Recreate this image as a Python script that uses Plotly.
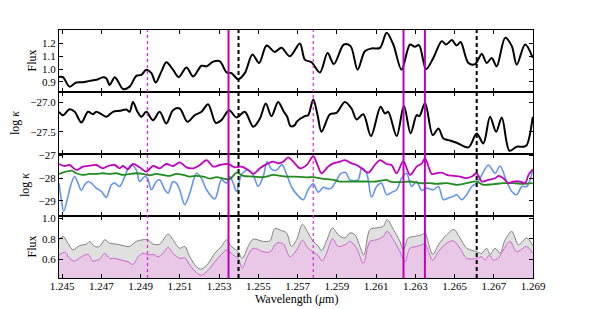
import plotly.graph_objects as go
from plotly.subplots import make_subplots

# ---------------- data ----------------
wl_flux = [1.24484, 1.24504, 1.24538, 1.24572, 1.24606, 1.24640, 1.24674, 1.24708, 1.24725, 1.24742,
           1.24768, 1.24785, 1.24810, 1.24844, 1.24878, 1.24904, 1.24929, 1.24955, 1.24977, 1.25006,
           1.25031, 1.25065, 1.25094, 1.25134, 1.25168, 1.25210, 1.25236, 1.25270, 1.25304, 1.25338,
           1.25363, 1.25397, 1.25431, 1.25470, 1.25504, 1.25542, 1.25584, 1.25618, 1.25661, 1.25712,
           1.25737, 1.25771, 1.25814, 1.25853, 1.25885, 1.25936, 1.25970, 1.26006, 1.26043, 1.26077,
           1.26120, 1.26154, 1.26188, 1.26230, 1.26273, 1.26298, 1.26319, 1.26355, 1.26392, 1.26435,
           1.26457, 1.26486, 1.26511, 1.26531, 1.26571, 1.26605, 1.26639, 1.26664, 1.26690, 1.26715,
           1.26758, 1.26792, 1.26817, 1.26860, 1.26899]
flux = [0.937, 0.937, 0.863, 0.895, 0.897, 0.908, 0.916, 0.937, 0.929, 0.876,
        0.937, 0.903, 0.845, 0.863, 0.947, 0.955, 0.995, 0.968, 0.895, 0.982,
        1.053, 0.995, 0.937, 1.013, 0.942, 1.026, 1.021, 1.058, 1.061, 0.974,
        0.968, 0.921, 0.968, 1.113, 1.047, 1.184, 1.134, 1.166, 1.100, 1.200,
        1.074, 1.053, 0.974, 1.126, 1.039, 1.192, 1.179, 0.995, 1.139, 1.161,
        1.166, 1.284, 1.192, 0.995, 1.192, 1.174, 1.187, 1.000, 1.087, 1.218,
        1.192, 1.226, 1.184, 1.211, 1.047, 1.039, 1.118, 1.047, 1.087, 1.021,
        1.245, 1.179, 1.034, 1.192, 1.087]

wl_kappa = [1.24484, 1.24504, 1.24538, 1.24564, 1.24598, 1.24632, 1.24657, 1.24674, 1.24700, 1.24725,
            1.24759, 1.24793, 1.24827, 1.24844, 1.24861, 1.24884, 1.24904, 1.24929, 1.24963, 1.24997,
            1.25031, 1.25065, 1.25099, 1.25139, 1.25176, 1.25210, 1.25244, 1.25283, 1.25312, 1.25351,
            1.25389, 1.25431, 1.25474, 1.25508, 1.25538, 1.25567, 1.25601, 1.25630, 1.25647, 1.25664,
            1.25686, 1.25695, 1.25737, 1.25754, 1.25780, 1.25802, 1.25822, 1.25865, 1.25899, 1.25941,
            1.25975, 1.26001, 1.26035, 1.26074, 1.26123, 1.26145, 1.26162, 1.26205, 1.26242, 1.26276,
            1.26307, 1.26321, 1.26350, 1.26389, 1.26418, 1.26443, 1.26469, 1.26511, 1.26571, 1.26613,
            1.26647, 1.26681, 1.26712, 1.26741, 1.26780, 1.26817, 1.26851, 1.26868, 1.26899]
log_kappa = [-27.159, -27.216, -27.114, -27.159, -27.341, -27.159, -27.199, -27.159, -27.199, -27.244,
             -27.159, -27.142, -27.119, -27.159, -26.989, -27.159, -27.244, -27.159, -27.301, -27.159,
             -27.358, -27.131, -27.102, -27.330, -27.216, -27.159, -27.028, -27.347, -27.301, -27.131,
             -27.256, -27.159, -27.415, -27.273, -27.017, -27.233, -26.989, -27.159, -27.244, -27.403,
             -27.386, -27.330, -27.233, -27.216, -26.949, -27.216, -27.500, -27.199, -27.176, -26.989,
             -27.102, -27.290, -27.199, -27.574, -27.074, -27.188, -27.159, -27.574, -27.057, -27.528,
             -27.216, -27.233, -27.006, -27.557, -27.443, -27.614, -27.642, -27.688, -27.767, -27.528,
             -27.699, -27.244, -27.500, -27.256, -27.824, -27.756, -27.756, -27.727, -27.244]

wl_mag = [1.24484, 1.24513, 1.24538, 1.24572, 1.24606, 1.24640, 1.24674, 1.24708, 1.24734, 1.24768,
          1.24793, 1.24810, 1.24836, 1.24861, 1.24895, 1.24929, 1.24963, 1.24997, 1.25031, 1.25065,
          1.25099, 1.25134, 1.25168, 1.25202, 1.25236, 1.25270, 1.25304, 1.25346, 1.25380, 1.25414,
          1.25448, 1.25474, 1.25508, 1.25533, 1.25576, 1.25601, 1.25627, 1.25652, 1.25678, 1.25712,
          1.25746, 1.25780, 1.25805, 1.25822, 1.25856, 1.25882, 1.25916, 1.25941,
          1.25975, 1.26001, 1.26026, 1.26060, 1.26094, 1.26120, 1.26154, 1.26179, 1.26205, 1.26239,
          1.26273, 1.26307, 1.26333, 1.26350, 1.26384, 1.26409, 1.26435, 1.26460, 1.26494, 1.26528,
          1.26562, 1.26588, 1.26613, 1.26639, 1.26673, 1.26707, 1.26724, 1.26749, 1.26775, 1.26800,
          1.26834, 1.26860, 1.26877, 1.26899]
kappa_mag = [-27.372, -27.460, -27.416, -27.635, -27.489, -27.445, -27.416, -27.562, -27.460, -27.416,
             -27.562, -27.460, -27.606, -27.372, -27.518, -27.708, -27.460, -27.562, -27.372, -27.460,
             -27.299, -27.518, -27.562, -27.416, -27.197, -27.489, -27.416, -27.372, -27.518, -27.489,
             -27.635, -27.810, -27.562, -27.420, -27.270, -27.340, -27.270, -27.080, -27.270, -27.560,
             -27.420, -27.030, -27.489, -27.781, -27.489, -27.343, -27.270, -27.197,
             -27.343, -27.416, -27.562, -27.752, -27.416, -27.197, -27.372, -27.416, -27.781, -27.241,
             -27.854, -27.489, -27.343, -27.124, -27.810, -27.781, -27.752, -27.854, -27.898, -27.927,
             -28.000, -27.927, -27.781, -28.146, -28.073, -28.000, -27.898, -28.000, -28.219, -28.146,
             -28.146, -28.219, -27.854, -27.606]

wl_green = [1.24484, 1.24521, 1.24547, 1.24572, 1.24606, 1.24640, 1.24674, 1.24708, 1.24742, 1.24776,
            1.24810, 1.24844, 1.24878, 1.24912, 1.24946, 1.24980, 1.25014, 1.25048, 1.25082, 1.25117,
            1.25151, 1.25185, 1.25219, 1.25253, 1.25287, 1.25321, 1.25355, 1.25389, 1.25423, 1.25474,
            1.25525, 1.25576, 1.25610, 1.25644, 1.25678, 1.25746, 1.25780, 1.25814, 1.25848, 1.25882,
            1.25916, 1.25967, 1.26018, 1.26052, 1.26103, 1.26154, 1.26171, 1.26222, 1.26273, 1.26324,
            1.26375, 1.26409, 1.26460, 1.26511, 1.26562, 1.26613, 1.26647, 1.26698, 1.26749, 1.26800,
            1.26851, 1.26899]
kappa_green = [-27.810, -27.708, -27.664, -27.781, -27.854, -27.810, -27.810, -27.781, -27.810, -27.781,
               -27.854, -27.810, -27.781, -27.810, -27.869, -27.810, -27.854, -27.898, -27.810, -27.854,
               -27.927, -27.898, -27.927, -28.015, -27.956, -28.015, -28.044, -27.752, -27.898, -27.927,
               -27.956, -27.854, -27.898, -27.930, -27.930, -27.960, -27.956, -28.000, -28.044, -28.073,
               -28.146, -28.146, -28.146, -28.146, -28.146, -28.073, -28.146, -28.175, -28.146, -28.219,
               -28.219, -28.248, -28.219, -28.292, -28.219, -28.146, -28.292, -28.263, -28.219, -28.219,
               -28.248, -28.219]

wl_blue = [1.24484, 1.24496, 1.24508, 1.24530, 1.24547, 1.24564, 1.24581, 1.24598, 1.24615, 1.24632,
           1.24649, 1.24674, 1.24700, 1.24725, 1.24751, 1.24768, 1.24793, 1.24819, 1.24836, 1.24853,
           1.24878, 1.24895, 1.24921, 1.24935, 1.24955, 1.24980, 1.24997, 1.25023, 1.25040, 1.25065,
           1.25082, 1.25099, 1.25125, 1.25151, 1.25185, 1.25210, 1.25236, 1.25278, 1.25312, 1.25338,
           1.25355, 1.25372, 1.25389, 1.25414, 1.25448, 1.25474, 1.25499, 1.25525, 1.25545, 1.25567,
           1.25593, 1.25620, 1.25645, 1.25670, 1.25700, 1.25729, 1.25754, 1.25780, 1.25805, 1.25831,
           1.25848, 1.25870, 1.25895, 1.25920, 1.25945, 1.25967, 1.26009, 1.26026,
           1.26052, 1.26077, 1.26103, 1.26128, 1.26154, 1.26179, 1.26205, 1.26230, 1.26256, 1.26281,
           1.26307, 1.26333, 1.26358, 1.26392, 1.26418, 1.26443, 1.26469, 1.26494, 1.26511, 1.26537,
           1.26562, 1.26588, 1.26613, 1.26639, 1.26673, 1.26707, 1.26732, 1.26766, 1.26792, 1.26817,
           1.26843, 1.26868, 1.26899]
kappa_blue = [-28.219, -28.949, -29.460, -28.803, -28.219, -27.927, -28.219, -28.540, -28.292, -28.146,
              -28.219, -28.438, -28.584, -28.847, -28.292, -28.219, -28.365, -27.927, -27.562, -27.416,
              -27.635, -28.146, -27.927, -28.000, -28.511, -28.146, -28.073, -28.511, -28.657, -28.146,
              -28.219, -28.511, -29.168, -28.657, -27.781, -28.000, -28.511, -28.920, -28.073, -28.219,
              -27.927, -28.219, -28.584, -27.854, -27.635, -27.854, -28.365, -27.927, -27.270, -27.600,
              -27.650, -27.400, -27.850, -28.400, -28.750, -28.950, -28.510, -28.250, -28.620, -28.400,
              -28.450, -28.450, -28.150, -27.800, -27.750, -28.073, -28.073, -27.562,
              -27.781, -28.832, -28.365, -28.219, -28.730, -28.628, -28.511, -28.000, -27.781, -28.365,
              -28.146, -28.540, -28.438, -28.511, -28.365, -28.949, -28.876, -28.803, -28.730, -28.949,
              -28.730, -28.365, -28.219, -27.854, -27.416, -27.781, -27.460, -28.146, -28.584, -28.730,
              -28.365, -28.365, -27.635]

wl_gray = [1.24484, 1.24504, 1.24530, 1.24555, 1.24589, 1.24623, 1.24640, 1.24666, 1.24691, 1.24717,
           1.24742, 1.24776, 1.24810, 1.24844, 1.24878, 1.24912, 1.24938, 1.24963, 1.24997, 1.25040,
           1.25065, 1.25099, 1.25125, 1.25151, 1.25185, 1.25210, 1.25244, 1.25278, 1.25312, 1.25338,
           1.25363, 1.25397, 1.25418, 1.25448, 1.25474, 1.25525, 1.25559, 1.25584, 1.25618, 1.25644,
           1.25669, 1.25695, 1.25725, 1.25754, 1.25780, 1.25805, 1.25822, 1.25848,
           1.25878, 1.25907, 1.25941, 1.25967, 1.25992, 1.26018, 1.26038, 1.26069, 1.26103, 1.26137,
           1.26157, 1.26188, 1.26222, 1.26239, 1.26264, 1.26298, 1.26333, 1.26350, 1.26367, 1.26389,
           1.26418, 1.26460, 1.26497, 1.26528, 1.26562, 1.26613, 1.26639, 1.26664, 1.26681, 1.26707,
           1.26732, 1.26758, 1.26792, 1.26826, 1.26868, 1.26899]
flux_gray = [0.790, 0.823, 0.757, 0.692, 0.734, 0.748, 0.774, 0.725, 0.725, 0.790,
             0.757, 0.748, 0.734, 0.725, 0.774, 0.790, 0.790, 0.748, 0.748, 0.846,
             0.790, 0.708, 0.725, 0.626, 0.528, 0.505, 0.561, 0.659, 0.725, 0.790,
             0.725, 0.675, 0.610, 0.725, 0.795, 0.774, 0.780, 0.898, 0.879, 0.856,
             0.725, 0.790, 0.940, 0.856, 0.774, 0.730, 0.685, 0.780,
             0.905, 0.839, 0.807, 0.856, 0.839, 0.725, 0.643, 0.889, 0.905, 0.921,
             0.987, 0.889, 0.774, 0.692, 0.807, 0.823, 0.839, 0.856, 0.757, 0.649,
             0.741, 0.839, 0.889, 0.807, 0.708, 0.675, 0.659, 0.708, 0.649, 0.708,
             0.659, 0.790, 0.872, 0.741, 0.807, 0.734]

wl_pink = [1.24484, 1.24513, 1.24538, 1.24564, 1.24598, 1.24632, 1.24657, 1.24691, 1.24717, 1.24742,
           1.24768, 1.24802, 1.24836, 1.24861, 1.24887, 1.24912, 1.24938, 1.24963, 1.24989, 1.25014,
           1.25040, 1.25065, 1.25099, 1.25125, 1.25151, 1.25185, 1.25210, 1.25244, 1.25278, 1.25312,
           1.25338, 1.25372, 1.25397, 1.25418, 1.25448, 1.25474, 1.25525, 1.25559, 1.25593, 1.25627,
           1.25661, 1.25695, 1.25725, 1.25754, 1.25780, 1.25805, 1.25825, 1.25848, 1.25878,
           1.25907, 1.25941, 1.25967, 1.26001, 1.26035, 1.26069, 1.26103, 1.26137, 1.26157,
           1.26188, 1.26222, 1.26247, 1.26273, 1.26307, 1.26341, 1.26350, 1.26367, 1.26389, 1.26418,
           1.26460, 1.26494, 1.26528, 1.26562, 1.26613, 1.26639, 1.26656, 1.26678, 1.26698, 1.26724,
           1.26749, 1.26783, 1.26817, 1.26868, 1.26899]
flux_pink = [0.643, 0.669, 0.610, 0.584, 0.626, 0.649, 0.584, 0.603, 0.659, 0.610,
             0.610, 0.593, 0.577, 0.551, 0.626, 0.659, 0.643, 0.649, 0.626, 0.659,
             0.718, 0.659, 0.610, 0.616, 0.544, 0.472, 0.446, 0.495, 0.577, 0.649,
             0.692, 0.643, 0.610, 0.518, 0.643, 0.708, 0.675, 0.672, 0.757, 0.750,
             0.626, 0.690, 0.785, 0.708, 0.670, 0.640, 0.585, 0.660, 0.800,
             0.725, 0.741, 0.774, 0.708, 0.561, 0.774, 0.790, 0.823, 0.872,
             0.790, 0.675, 0.577, 0.708, 0.725, 0.748, 0.757, 0.675, 0.593, 0.675,
             0.757, 0.780, 0.708, 0.610, 0.610, 0.626, 0.593, 0.643, 0.593, 0.616,
             0.692, 0.774, 0.675, 0.725, 0.659]

vline_solid = [1.25348, 1.26240, 1.26349]
vline_dotted = [1.24935, 1.25780]
vline_dashed = [1.25399, 1.26613]

x_ticks = [1.245, 1.247, 1.249, 1.251, 1.253, 1.255, 1.257, 1.259, 1.261, 1.263, 1.265, 1.267, 1.269]
y1_ticks = [0.9, 1.0, 1.1, 1.2]
y2_ticks = [-27.5, -27.0]
y3_ticks = [-29, -28, -27]
y4_ticks = [0.6, 0.8, 1.0]

# ---------------- figure ----------------
FONT = "Liberation Serif"
MAG = "#bf00bf"
fig = make_subplots(rows=4, cols=1, shared_xaxes=True, vertical_spacing=0)

sp = dict(shape="spline", smoothing=0.9)
fig.add_trace(go.Scatter(x=wl_flux, y=flux, mode="lines",
                         line=dict(color="black", width=2, **sp)), row=1, col=1)
fig.add_trace(go.Scatter(x=wl_kappa, y=log_kappa, mode="lines",
                         line=dict(color="black", width=2, **sp)), row=2, col=1)
fig.add_trace(go.Scatter(x=wl_blue, y=kappa_blue, mode="lines",
                         line=dict(color="#6495ed", width=1.6, **sp)), row=3, col=1)
fig.add_trace(go.Scatter(x=wl_green, y=kappa_green, mode="lines",
                         line=dict(color="#228b22", width=1.8, **sp)), row=3, col=1)
fig.add_trace(go.Scatter(x=wl_mag, y=kappa_mag, mode="lines",
                         line=dict(color=MAG, width=1.8, **sp)), row=3, col=1)
fig.add_trace(go.Scatter(x=wl_gray, y=flux_gray, mode="lines", fill="tozeroy",
                         fillcolor="#e0e0e0",
                         line=dict(color="#808080", width=1, **sp)), row=4, col=1)
fig.add_trace(go.Scatter(x=wl_pink, y=flux_pink, mode="lines", fill="tozeroy",
                         fillcolor="#e8c8e6",
                         line=dict(color="#cc66cc", width=1, **sp)), row=4, col=1)

for xv in vline_solid:
    fig.add_shape(type="line", xref="x", yref="paper", x0=xv, x1=xv, y0=0, y1=1,
                  line=dict(color=MAG, width=2), layer="above")
for xv in vline_dotted:
    fig.add_shape(type="line", xref="x", yref="paper", x0=xv, x1=xv, y0=0, y1=1,
                  line=dict(color="#e020e0", width=1.2, dash="dot"), layer="above")
for xv in vline_dashed:
    fig.add_shape(type="line", xref="x", yref="paper", x0=xv, x1=xv, y0=0, y1=1,
                  line=dict(color="black", width=2, dash="4px,3px"), layer="above")

axis_common = dict(showline=True, linecolor="black", linewidth=1, mirror="ticks",
                   ticks="inside", ticklen=4, tickcolor="black", tickwidth=1,
                   showgrid=False, zeroline=False,
                   tickfont=dict(family=FONT, size=11, color="black"))

for r in range(1, 5):
    fig.update_xaxes(range=[1.24484, 1.269], tickvals=x_ticks, tickformat=".3f",
                     ticklabelstandoff=-2, row=r, col=1, **axis_common)

fig.update_yaxes(range=[0.821, 1.305], tickvals=y1_ticks, tickformat=".1f", row=1, col=1, **axis_common)
fig.update_yaxes(range=[-27.88, -26.82], tickvals=y2_ticks, tickformat=".1f", row=2, col=1, **axis_common)
fig.update_yaxes(range=[-29.67, -26.93], tickvals=y3_ticks, tickformat="d", row=3, col=1, **axis_common)
fig.update_yaxes(range=[0.42, 1.02], tickvals=y4_ticks, tickformat=".1f", row=4, col=1, **axis_common)

# page body has an 8px default margin; size the figure so the plot area lands
# at x 59..533, y 30..278 of the 592x309 window
OFF = 8
W, H = 592 - OFF, 309 - OFF
L, R, T, B = 59 - OFF, 59, 30 - OFF, 31
pw = W - L - R

def px2paper(px):
    return (px - OFF - L) / pw

ylabels = [("Flux", 31.5, 0.875), ("log <i>κ</i>", 15, 0.625),
           ("log <i>κ</i>", 25, 0.375), ("Flux", 31.5, 0.125)]
for text, xp, yp in ylabels:
    fig.add_annotation(text=text, x=px2paper(xp), y=yp, xref="paper", yref="paper",
                       textangle=-90, showarrow=False, xanchor="center", yanchor="middle",
                       font=dict(family=FONT, size=12, color="black"))

fig.add_annotation(text="Wavelength (<i>μ</i>m)", x=0.5, y=0, xref="paper", yref="paper",
                   yshift=-21, showarrow=False, xanchor="center", yanchor="middle",
                   font=dict(family=FONT, size=12, color="black"))

fig.update_layout(width=W, height=H, margin=dict(l=L, r=R, t=T, b=B),
                  paper_bgcolor="white", plot_bgcolor="white", showlegend=False,
                  font=dict(family=FONT, size=11, color="black"))

fig.write_html("out.html")
